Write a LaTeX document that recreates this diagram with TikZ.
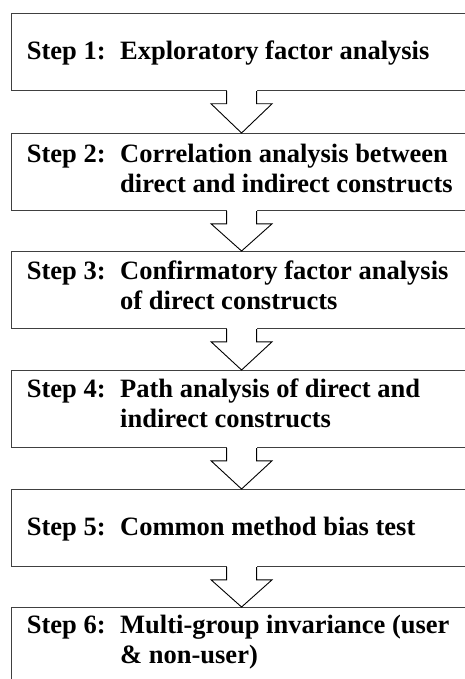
\documentclass[tikz,border=0pt]{standalone}
\usepackage{fontspec}
\setmainfont{Liberation Serif}
\usetikzlibrary{calc}

% Hollow block arrow from the bottom of one step box to the top of the next
\newcommand{\blockarrow}[2]{%
  \fill[white] ($(#1.south)+(-15,-1.5)$) rectangle ($(#1.south)+(15,2)$);
  \draw[arrowline,fill=white]
    ($(#1.south)+(-15,0)$) -- ($(#1.south)+(-15,12.7)$)
    -- ($(#1.south)+(-30.5,12.7)$) -- (#2.north)
    -- ($(#1.south)+(30.5,12.7)$) -- ($(#1.south)+(15,12.7)$)
    -- ($(#1.south)+(15,0)$);
}
% Caption lines, first baseline on the node's base anchor
\newcommand{\steplines}[1]{\begin{tabular}[t]{@{}l@{}}#1\end{tabular}}

\begin{document}
\begin{tikzpicture}[x=1pt,y=-1pt,
  stepbox/.style={draw=black!75,line width=1.1pt,rectangle,inner sep=0,
    minimum width=460pt,minimum height=77pt,anchor=north west},
  steplabel/.style={anchor=base west,inner sep=0,
    font=\fontsize{26.5}{30}\selectfont\bfseries},
  steptext/.style={anchor=base west,inner sep=0,
    font=\fontsize{26.5}{30}\selectfont\bfseries},
  arrowline/.style={draw=black,line width=0.9pt,line join=miter}]
\useasboundingbox (0,0) rectangle (465,679);
\clip (0,0) rectangle (465,679);

% step boxes
\node[stepbox] (b1) at (11,13) {};
\node[stepbox] (b2) at (11,133) {};
\node[stepbox] (b3) at (11,251) {};
\node[stepbox] (b4) at (11,370) {};
\node[stepbox] (b5) at (11,489) {};
\node[stepbox,minimum height=95pt] (b6) at (11,607) {};

% step captions
\node[steplabel] (l1) at (26.7,60) {Step 1:};
\node[steptext]  (t1) at (120,60) {\steplines{Exploratory factor analysis}};
\node[steplabel] (l2) at (26.7,163) {Step 2:};
\node[steptext]  (t2) at (120,163) {\steplines{Correlation analysis between\\direct and indirect constructs}};
\node[steplabel] (l3) at (26.7,279) {Step 3:};
\node[steptext]  (t3) at (120,279) {\steplines{Confirmatory factor analysis\\of direct constructs}};
\node[steplabel] (l4) at (26.7,397) {Step 4:};
\node[steptext]  (t4) at (120,397) {\steplines{Path analysis of direct and\\indirect constructs}};
\node[steplabel] (l5) at (26.7,535) {Step 5:};
\node[steptext]  (t5) at (120,535) {\steplines{Common method bias test}};
\node[steplabel] (l6) at (26.7,633) {Step 6:};
\node[steptext]  (t6) at (120,633) {\steplines{Multi-group invariance (user\\\& non-user)}};

% connecting arrows
\blockarrow{b1}{b2}
\blockarrow{b2}{b3}
\blockarrow{b3}{b4}
\blockarrow{b4}{b5}
\blockarrow{b5}{b6}
\end{tikzpicture}
\end{document}
